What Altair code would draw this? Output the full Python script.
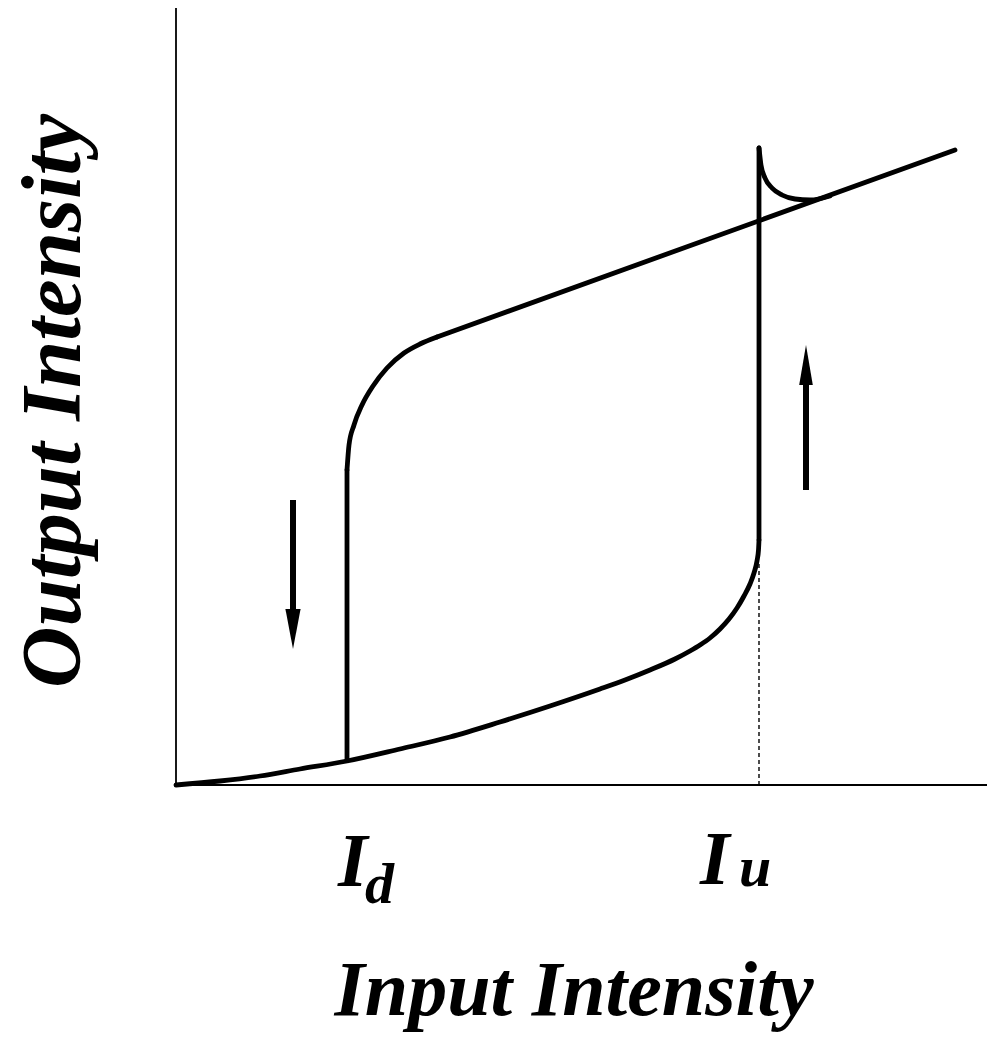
import altair as alt
import pandas as pd

# Chart units: input intensity (x) and output intensity (y), origin at axes corner
lower_x = [0, 44, 84, 124, 171, 224, 274, 324, 374, 424, 449, 474, 499, 514, 524, 534, 544, 553,
           561, 568, 574, 578, 581, 582.5, 583]
lower_y = [0, 4, 9, 16, 24, 36, 48, 63, 79, 96, 105, 115, 126, 134, 140, 147, 156, 166,
           177, 189, 201, 212, 224, 235, 245]

hook_x = [583, 585, 589, 596, 606, 619, 634, 654]
hook_y = [637, 620, 607, 597, 590, 586, 585, 589]

upper_curve_x = [171, 173, 178, 186, 197, 211, 228, 244, 261]
upper_curve_y = [315, 340, 360, 380, 399, 417, 432, 441, 448]

# straight pieces: (x, y, x2, y2)
straight = [
    (583, 245, 583, 637),   # jump up at I_u
    (261, 448, 779, 635),   # upper branch
    (171, 315, 171, 25),    # drop down at I_d
]
axes_seg = [
    (0, 0, 0, 780),
    (0, 0, 814, 0),
]
dotted = [(583, 0, 583, 222)]

arrow_shafts = [(117, 285, 117, 175), (630, 295, 630, 405)]
arrow_down_head = [(117, 156)]
arrow_up_head = [(630, 420)]

XDOM = [-168, 811]
YDOM = [-247, 777]
W, H = 979, 1024
LW = 4.8

xs = alt.Scale(domain=XDOM, nice=False, zero=False)
ys = alt.Scale(domain=YDOM, nice=False, zero=False)

def seg_df(rows):
    return pd.DataFrame(rows, columns=["x", "y", "x2", "y2"])

def line_layer(xv, yv, interp):
    df = pd.DataFrame({"x": xv, "y": yv, "o": list(range(len(xv)))})
    return alt.Chart(df).mark_line(interpolate=interp, color="black", strokeWidth=LW,
                                   strokeCap="round", strokeJoin="round").encode(
        x=alt.X("x:Q", scale=xs, axis=None),
        y=alt.Y("y:Q", scale=ys, axis=None),
        order="o:Q")

def rule_layer(rows, width, dash=None, cap="butt"):
    kw = dict(color="black", strokeWidth=width, strokeCap=cap)
    if dash:
        kw["strokeDash"] = dash
    return alt.Chart(seg_df(rows)).mark_rule(**kw).encode(
        x=alt.X("x:Q", scale=xs, axis=None), y=alt.Y("y:Q", scale=ys, axis=None),
        x2="x2:Q", y2="y2:Q")

layers = []
layers.append(rule_layer(axes_seg, 1.8))
layers.append(rule_layer(dotted, 1.4, [4, 3]))
layers.append(line_layer(lower_x, lower_y, "monotone"))
layers.append(line_layer(hook_x, hook_y, "monotone"))
layers.append(line_layer(upper_curve_x, upper_curve_y, "monotone"))
layers.append(rule_layer(straight, LW, cap="round"))
layers.append(rule_layer(arrow_shafts, 6))

def head_layer(pts, path):
    df = pd.DataFrame(pts, columns=["x", "y"])
    return alt.Chart(df).mark_point(shape=path, filled=True, color="black", opacity=1, size=1600,
                                    strokeWidth=0).encode(
        x=alt.X("x:Q", scale=xs, axis=None), y=alt.Y("y:Q", scale=ys, axis=None))

layers.append(head_layer(arrow_down_head, "M-0.38,-1L0.38,-1L0,1Z"))
layers.append(head_layer(arrow_up_head, "M-0.34,1L0.34,1L0,-1Z"))

FONT = "Liberation Serif"

def text_layer(x, y, s, size, align="left", angle=0):
    df = pd.DataFrame({"x": [x], "y": [y], "t": [s]})
    return alt.Chart(df).mark_text(font=FONT, fontStyle="italic", fontWeight="bold", fontSize=size,
                                   align=align, baseline="alphabetic", angle=angle, color="black").encode(
        x=alt.X("x:Q", scale=xs, axis=None), y=alt.Y("y:Q", scale=ys, axis=None), text="t:N")

layers.append(text_layer(162, -101, "I", 76))
layers.append(text_layer(189, -118, "d", 58))
layers.append(text_layer(524, -99, "I", 76))
layers.append(text_layer(563, -101, "u", 58))
layers.append(text_layer(398, -230, "Input Intensity", 78, align="center"))
layers.append(text_layer(-96, 384, "Output Intensity", 85, align="center", angle=270))

chart = alt.layer(*layers).properties(
    width=W, height=H, autosize=alt.AutoSizeParams(type="none"), padding=0
).configure_view(strokeWidth=0)

chart.save("out.html", embed_options={"renderer": "svg", "actions": False})
